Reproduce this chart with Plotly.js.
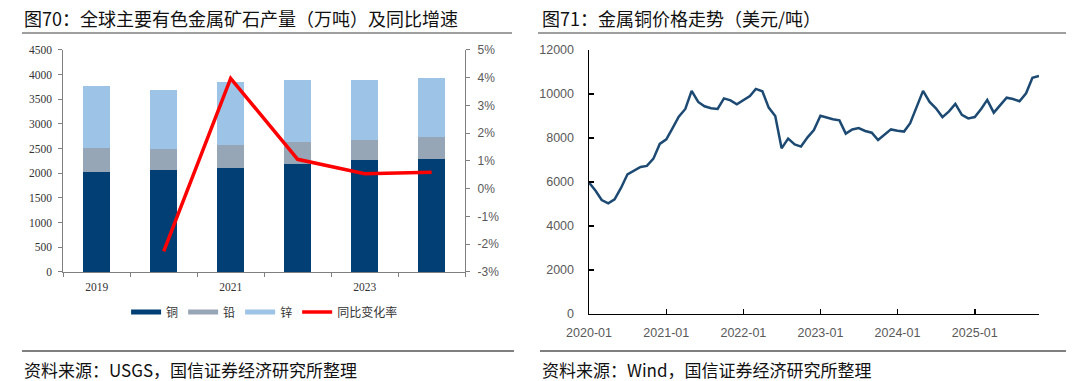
<!DOCTYPE html>
<html>
<head>
<meta charset="utf-8">
<script src="https://cdn.plot.ly/plotly-3.0.1.min.js"></script>
<style>html,body{margin:0;padding:0;background:#fff;}#chart{width:1080px;height:381px;}</style>
</head>
<body>
<div id="chart"></div>
<script>
// Left chart data (万吨)
const years = [2019, 2020, 2021, 2022, 2023, 2024];
const copper = [2030, 2063, 2112, 2179, 2261, 2295];
const lead = [475, 422, 454, 448, 421, 434];
const zinc = [1269, 1207, 1277, 1257, 1215, 1196];
const rateYears = [2020, 2021, 2022, 2023, 2024];
const yoyRate = [-0.0226, 0.0398, 0.0106, 0.0054, 0.0059];
const leftXTicks = [2019, 2021, 2023];
const leftXTickText = ['2019', '2021', '2023'];
const rateTicks = [-0.03, -0.02, -0.01, 0, 0.01, 0.02, 0.03, 0.04, 0.05];
const rateTickText = ['-3%', '-2%', '-1%', '0%', '1%', '2%', '3%', '4%', '5%'];

// Right chart data (美元/吨)
const months = [
 '2020-01','2020-02','2020-03','2020-04','2020-05','2020-06','2020-07','2020-08','2020-09','2020-10','2020-11','2020-12',
 '2021-01','2021-02','2021-03','2021-04','2021-05','2021-06','2021-07','2021-08','2021-09','2021-10','2021-11','2021-12',
 '2022-01','2022-02','2022-03','2022-04','2022-05','2022-06','2022-07','2022-08','2022-09','2022-10','2022-11','2022-12',
 '2023-01','2023-02','2023-03','2023-04','2023-05','2023-06','2023-07','2023-08','2023-09','2023-10','2023-11','2023-12',
 '2024-01','2024-02','2024-03','2024-04','2024-05','2024-06','2024-07','2024-08','2024-09','2024-10','2024-11','2024-12',
 '2025-01','2025-02','2025-03','2025-04','2025-05','2025-06','2025-07','2025-08','2025-09','2025-10','2025-11'];
const copperPrice = [
 5970,5600,5180,5030,5210,5740,6350,6500,6680,6730,7060,7730,
 7940,8470,8970,9320,10140,9640,9440,9350,9320,9800,9710,9530,
 9730,9910,10230,10120,9380,9000,7530,7970,7710,7610,8030,8360,
 9010,8910,8850,8800,8200,8390,8450,8320,8240,7910,8170,8390,
 8330,8290,8670,9420,10140,9640,9350,8950,9210,9550,9050,8890,
 8950,9330,9730,9150,9500,9830,9770,9670,10030,10740,10820];
const rightXTicks = ['2020-01-01','2021-01-01','2022-01-01','2023-01-01','2024-01-01','2025-01-01'];
const rightXTickText = ['2020-01','2021-01','2022-01','2023-01','2024-01','2025-01'];

const cCopper = '#023f74', cLead = '#97a6b6', cZinc = '#9dc3e6', cRed = '#ff0000', cLine = '#1d4a73';
const cjk = '"Noto Sans CJK SC", "Noto Sans", sans-serif';

const traces = [
  {type:'bar', x:years, y:copper, name:'铜', marker:{color:cCopper}, xaxis:'x', yaxis:'y', showlegend:false, hoverinfo:'skip'},
  {type:'bar', x:years, y:lead, name:'铅', marker:{color:cLead}, xaxis:'x', yaxis:'y', showlegend:false, hoverinfo:'skip'},
  {type:'bar', x:years, y:zinc, name:'锌', marker:{color:cZinc}, xaxis:'x', yaxis:'y', showlegend:false, hoverinfo:'skip'},
  {type:'scatter', mode:'lines', x:rateYears, y:yoyRate, name:'同比变化率', line:{color:cRed, width:3.5}, xaxis:'x', yaxis:'y2', showlegend:false},
  // legend entries
  {type:'scatter', mode:'lines', x:[null], y:[null], name:'铜', line:{color:cCopper, width:5}, xaxis:'x', yaxis:'y'},
  {type:'scatter', mode:'lines', x:[null], y:[null], name:'铅', line:{color:cLead, width:5}, xaxis:'x', yaxis:'y'},
  {type:'scatter', mode:'lines', x:[null], y:[null], name:'锌', line:{color:cZinc, width:5}, xaxis:'x', yaxis:'y'},
  {type:'scatter', mode:'lines', x:[null], y:[null], name:'同比变化率', line:{color:cRed, width:3.5}, xaxis:'x', yaxis:'y'},
  // right chart
  {type:'scatter', mode:'lines', x:months, y:copperPrice, name:'铜价', line:{color:cLine, width:2.5}, xaxis:'x3', yaxis:'y3', showlegend:false}
];

const serif = {family:'"Liberation Serif", "Times New Roman", serif', size:11.5, color:'#333333'};
const sans = {family:'"Liberation Sans", Arial, sans-serif', size:12, color:'#595959'};
const sansR = {family:'"Liberation Sans", Arial, sans-serif', size:12.5, color:'#595959'};

const layout = {
  width:1080, height:381,
  margin:{l:0, r:0, t:0, b:0},
  paper_bgcolor:'#ffffff', plot_bgcolor:'rgba(0,0,0,0)',
  barmode:'stack', bargap:0.6,
  showlegend:true,
  legend:{orientation:'h', traceorder:'normal', x:0.245, xanchor:'center', y:0.181, yanchor:'middle',
          font:{family:cjk, size:12, color:'#333333'}, itemwidth:30, tracegroupgap:0, bgcolor:'rgba(0,0,0,0)'},
  xaxis:{domain:[0.0585, 0.4307], range:[2018.5, 2024.5], tickmode:'array', tickvals:leftXTicks, ticktext:leftXTickText,
         ticks:'', showline:true, linecolor:'#808080', linewidth:1, showgrid:false, zeroline:false, tickfont:serif,
         minor:{ticks:'outside', tickmode:'linear', tick0:2018.5, dtick:1, ticklen:4, tickcolor:'#808080', tickwidth:1, showgrid:false},
         anchor:'y', ticklabelstandoff:4},
  yaxis:{domain:[0.2861, 0.8688], range:[0, 4500], dtick:500, tick0:0, ticks:'outside', ticklen:4, tickcolor:'#808080',
         showline:true, linecolor:'#808080', linewidth:1, showgrid:false, zeroline:false, tickfont:serif, anchor:'x',
         ticklabelstandoff:4},
  yaxis2:{overlaying:'y', side:'right', anchor:'x', range:[-0.03, 0.05], tickmode:'array', tickvals:rateTicks, ticktext:rateTickText,
          ticks:'outside', ticklen:4, tickcolor:'#808080', showline:true, linecolor:'#808080', linewidth:1,
          showgrid:false, zeroline:false, tickfont:sans, ticklabelstandoff:5},
  xaxis3:{domain:[0.5454, 0.9620], type:'date', range:['2020-01-01','2025-11-01'], tickmode:'array', tickvals:rightXTicks,
          ticktext:rightXTickText, ticks:'inside', ticklen:5, tickcolor:'#000000', tickwidth:1.5, showline:true,
          linecolor:'#000000', linewidth:1.5, showgrid:false, zeroline:false, tickfont:sansR, anchor:'y3', ticklabelstandoff:7},
  yaxis3:{domain:[0.1759, 0.8688], range:[0, 12000], dtick:2000, tick0:0, tickformat:'d', ticks:'inside', ticklen:5, tickcolor:'#000000',
          tickwidth:1.5, showline:true, linecolor:'#000000', linewidth:1.5, showgrid:false, zeroline:false, tickfont:sansR, anchor:'x3',
          ticklabelstandoff:11},
  annotations:[
    {xref:'paper', yref:'paper', x:22/1080, y:1-18/381, xanchor:'left', yanchor:'middle', showarrow:false,
     text:'图70：全球主要有色金属矿石产量（万吨）及同比增速', font:{family:cjk, size:18, color:'#111111'}},
    {xref:'paper', yref:'paper', x:540/1080, y:1-18/381, xanchor:'left', yanchor:'middle', showarrow:false,
     text:'图71：金属铜价格走势（美元/吨）', font:{family:cjk, size:18, color:'#111111'}},
    {xref:'paper', yref:'paper', x:22/1080, y:1-369/381, xanchor:'left', yanchor:'middle', showarrow:false,
     text:'资料来源：USGS，国信证券经济研究所整理', font:{family:cjk, size:17, color:'#111111'}},
    {xref:'paper', yref:'paper', x:540/1080, y:1-369/381, xanchor:'left', yanchor:'middle', showarrow:false,
     text:'资料来源：Wind，国信证券经济研究所整理', font:{family:cjk, size:17, color:'#111111'}}
  ],
  shapes:[
    {type:'line', xref:'paper', yref:'paper', x0:22/1080, x1:512/1080, y0:1-33/381, y1:1-33/381, line:{color:'#7f7f7f', width:1.5}},
    {type:'line', xref:'paper', yref:'paper', x0:538/1080, x1:1066/1080, y0:1-33/381, y1:1-33/381, line:{color:'#7f7f7f', width:1.5}},
    {type:'line', xref:'paper', yref:'paper', x0:22/1080, x1:514/1080, y0:1-351/381, y1:1-351/381, line:{color:'#7f7f7f', width:2}},
    {type:'line', xref:'paper', yref:'paper', x0:540/1080, x1:1066/1080, y0:1-351/381, y1:1-351/381, line:{color:'#7f7f7f', width:2}}
  ]
};

Plotly.newPlot('chart', traces, layout, {displayModeBar:false, staticPlot:true});
</script>
</body>
</html>
